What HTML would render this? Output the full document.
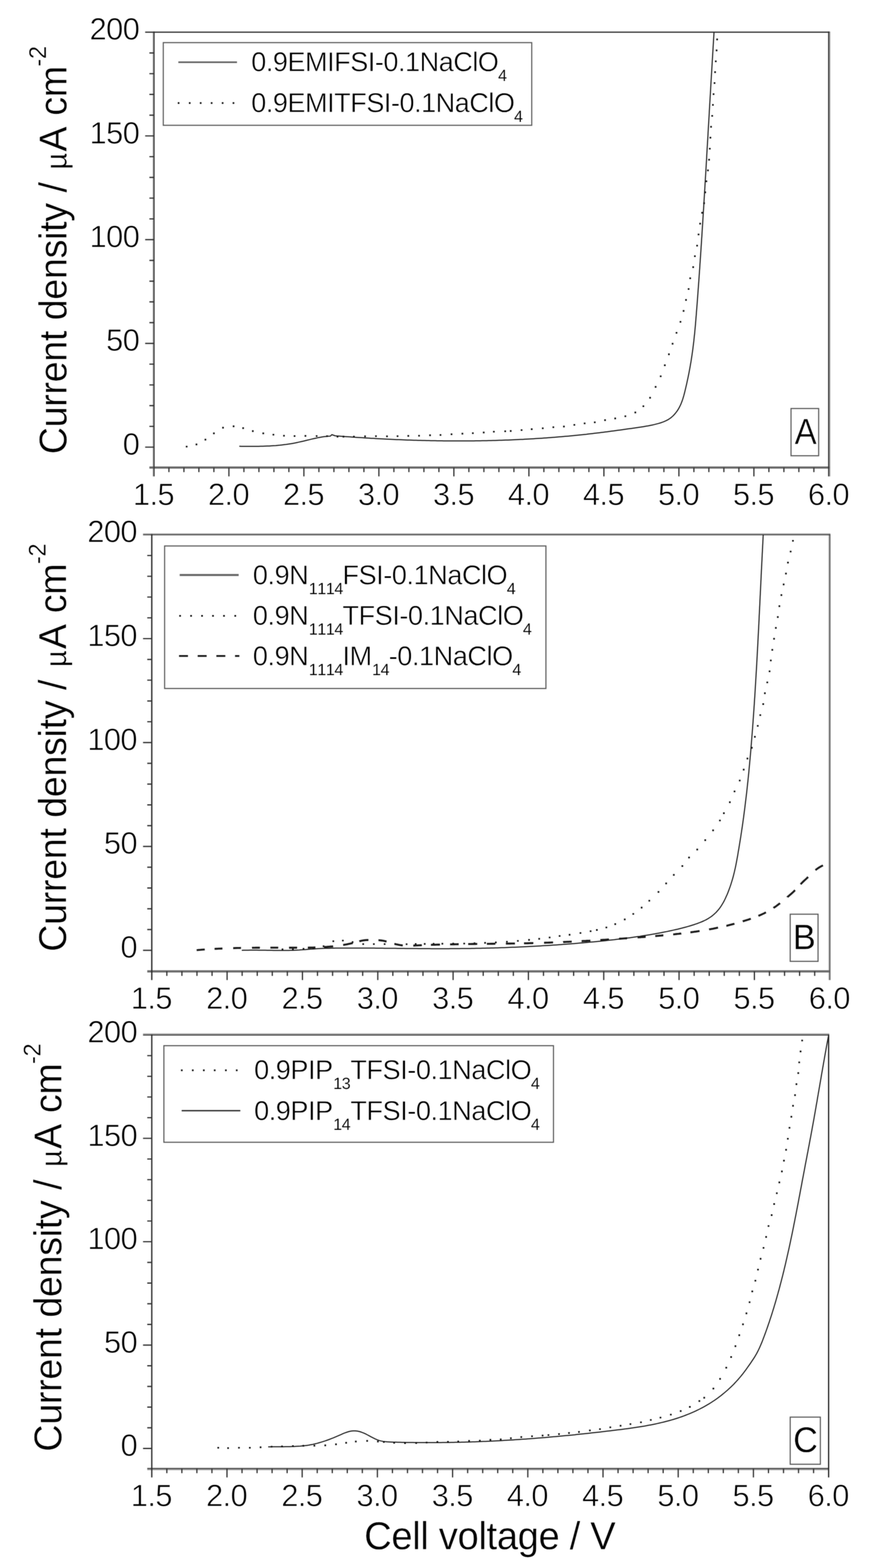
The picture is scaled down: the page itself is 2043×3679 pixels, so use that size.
<!DOCTYPE html>
<html lang="en">
<head>
<meta charset="utf-8">
<title>Linear sweep voltammetry of ionic-liquid electrolytes</title>
<style>
html,body{margin:0;padding:0;background:#fff;}
body{width:2043px;height:3679px;overflow:hidden;}
svg{display:block;}
text{font-family:"Liberation Sans", Arial, Helvetica, sans-serif;fill:#000;stroke:#fff;stroke-linejoin:round;paint-order:fill stroke;white-space:pre;font-kerning:none;font-variant-ligatures:none;text-rendering:geometricPrecision;}
.tk{font-size:72.80px;stroke-width:1.35px;letter-spacing:-1.51px;}
.lg{font-size:64.00px;stroke-width:1.0px;letter-spacing:-1.12px;}
.sb{font-size:38.00px;stroke-width:0.25px;letter-spacing:-0.29px;}
.al{font-size:91.50px;stroke-width:0.65px;letter-spacing:-0.75px;}
.sp{font-size:57.00px;stroke-width:0.7px;letter-spacing:-0.80px;}
.mu{font-size:70.00px;stroke-width:0.8px;letter-spacing:-0.91px;}
.pl{font-size:85.00px;stroke-width:1.2px;letter-spacing:-1.41px;}
.ax{fill:none;stroke:#333;stroke-width:2.9;}
.bx{fill:#fff;stroke:#5a5a5a;stroke-width:2.6;}
.cv{fill:none;stroke:#1c1c1c;stroke-linejoin:round;}
.dt{fill:none;stroke:#111;stroke-linecap:square;}
</style>
</head>
<body>
<svg xmlns="http://www.w3.org/2000/svg" width="2043" height="3679" viewBox="0 0 2043 3679">
<defs>
<filter id="soft" x="0" y="0" width="2043" height="3679" filterUnits="userSpaceOnUse" color-interpolation-filters="sRGB">
<feConvolveMatrix order="3" kernelMatrix="1 2 1 2 4 2 1 2 1" divisor="16" edgeMode="duplicate" preserveAlpha="true"/>
</filter>
</defs>
<g filter="url(#soft)">
<rect width="2043" height="3679" fill="#fff"/>
<g id="panel-A">
<path d="M340.5 73.9L1945.6 73.9" fill="none" stroke="#c4c4c4" stroke-width="1.6"/>
<path d="M358.8 74.1L358.8 1117.7" fill="none" stroke="#bcbcbc" stroke-width="2.2"/>
<path d="M1946.4 74.1L1946.4 1117.7" fill="none" stroke="#a8a8a8" stroke-width="2.8"/>
<path d="M350.4 1097L1945.6 1097" fill="none" stroke="#666" stroke-width="5.2"/>
<path d="M361.3 74.1L361.3 1117.7" fill="none" stroke="#383838" stroke-width="2.8"/>
<path d="M1943.7 74.1L1943.7 1117.7" fill="none" stroke="#383838" stroke-width="2.8"/>
<path d="M340.5 75.7L1945.6 75.7" fill="none" stroke="#2e2e2e" stroke-width="2.5"/>
<path class="ax" d="M396.2 1097.2v10.6 M431.4 1097.2v10.6 M466.5 1097.2v10.6 M501.7 1097.2v10.6 M536.9 1097.2v20.5 M572.1 1097.2v10.6 M607.3 1097.2v10.6 M642.5 1097.2v10.6 M677.6 1097.2v10.6 M712.8 1097.2v20.5 M748 1097.2v10.6 M783.2 1097.2v10.6 M818.4 1097.2v10.6 M853.6 1097.2v10.6 M888.7 1097.2v20.5 M923.9 1097.2v10.6 M959.1 1097.2v10.6 M994.3 1097.2v10.6 M1029.5 1097.2v10.6 M1064.6 1097.2v20.5 M1099.8 1097.2v10.6 M1135 1097.2v10.6 M1170.2 1097.2v10.6 M1205.4 1097.2v10.6 M1240.6 1097.2v20.5 M1275.7 1097.2v10.6 M1310.9 1097.2v10.6 M1346.1 1097.2v10.6 M1381.3 1097.2v10.6 M1416.5 1097.2v20.5 M1451.6 1097.2v10.6 M1486.8 1097.2v10.6 M1522 1097.2v10.6 M1557.2 1097.2v10.6 M1592.4 1097.2v20.5 M1627.6 1097.2v10.6 M1662.7 1097.2v10.6 M1697.9 1097.2v10.6 M1733.1 1097.2v10.6 M1768.3 1097.2v20.5 M1803.5 1097.2v10.6 M1838.7 1097.2v10.6 M1873.8 1097.2v10.6 M1909 1097.2v10.6 M361 1049.1h-20.5 M361 1000.4h-10.6 M361 951.7h-10.6 M361 903.1h-10.6 M361 854.4h-10.6 M361 805.7h-20.5 M361 757h-10.6 M361 708.3h-10.6 M361 659.7h-10.6 M361 611h-10.6 M361 562.3h-20.5 M361 513.6h-10.6 M361 464.9h-10.6 M361 416.3h-10.6 M361 367.6h-10.6 M361 318.9h-20.5 M361 270.2h-10.6 M361 221.5h-10.6 M361 172.9h-10.6 M361 124.2h-10.6"/>
<text class="tk" transform="translate(360 1184.7) scale(0.9959 1)" text-anchor="middle">1.5</text>
<text class="tk" transform="translate(535.9 1184.7) scale(0.9959 1)" text-anchor="middle">2.0</text>
<text class="tk" transform="translate(711.8 1184.7) scale(0.9959 1)" text-anchor="middle">2.5</text>
<text class="tk" transform="translate(887.7 1184.7) scale(0.9959 1)" text-anchor="middle">3.0</text>
<text class="tk" transform="translate(1063.6 1184.7) scale(0.9959 1)" text-anchor="middle">3.5</text>
<text class="tk" transform="translate(1239.5 1184.7) scale(0.9959 1)" text-anchor="middle">4.0</text>
<text class="tk" transform="translate(1415.4 1184.7) scale(0.9959 1)" text-anchor="middle">4.5</text>
<text class="tk" transform="translate(1591.3 1184.7) scale(0.9959 1)" text-anchor="middle">5.0</text>
<text class="tk" transform="translate(1767.2 1184.7) scale(0.9959 1)" text-anchor="middle">5.5</text>
<text class="tk" transform="translate(1943.2 1184.7) scale(0.9959 1)" text-anchor="middle">6.0</text>
<text class="tk" transform="translate(326.5 1066.7) scale(0.9959 1)" text-anchor="end">0</text>
<text class="tk" transform="translate(326.5 823.3) scale(0.9959 1)" text-anchor="end">50</text>
<text class="tk" transform="translate(326.5 579.9) scale(0.9959 1)" text-anchor="end">100</text>
<text class="tk" transform="translate(326.5 336.5) scale(0.9959 1)" text-anchor="end">150</text>
<text class="tk" transform="translate(326.5 93.1) scale(0.9959 1)" text-anchor="end">200</text>
<text class="al" transform="translate(156 1065.8) rotate(-90) scale(0.9650 1)"><tspan x="0">Current</tspan><tspan x="325.7">density</tspan><tspan x="636.4">/</tspan><tspan class="mu" style="letter-spacing:0" x="692.4">µ</tspan><tspan x="735.8">A</tspan><tspan x="823.1">cm</tspan><tspan class="sp" style="letter-spacing:-0.58px" x="942.5" dy="-48.2">-2</tspan></text>
</g>
<g id="panel-B">
<path d="M1943.9 1253.2L1943.9 2299.6" fill="none" stroke="#c6c6c6" stroke-width="2.4"/>
<path d="M335.5 1252.4L1947.6 1252.4" fill="none" stroke="#acacac" stroke-width="2.4"/>
<path d="M345.4 2279.1L1947.6 2279.1" fill="none" stroke="#6c6c6c" stroke-width="5.2"/>
<path d="M1946.5 1253.2L1946.5 2299.6" fill="none" stroke="#5e5e5e" stroke-width="2.9"/>
<path d="M335.5 1254.8L1947.6 1254.8" fill="none" stroke="#484848" stroke-width="2.5"/>
<path d="M356 1253.2L356 2299.6" fill="none" stroke="#2a2a2a" stroke-width="3.1"/>
<path class="ax" d="M391.3 2279.1v10.6 M426.7 2279.1v10.6 M462 2279.1v10.6 M497.4 2279.1v10.6 M532.7 2279.1v20.5 M568 2279.1v10.6 M603.4 2279.1v10.6 M638.7 2279.1v10.6 M674 2279.1v10.6 M709.4 2279.1v20.5 M744.7 2279.1v10.6 M780.1 2279.1v10.6 M815.4 2279.1v10.6 M850.7 2279.1v10.6 M886.1 2279.1v20.5 M921.4 2279.1v10.6 M956.7 2279.1v10.6 M992.1 2279.1v10.6 M1027.4 2279.1v10.6 M1062.8 2279.1v20.5 M1098.1 2279.1v10.6 M1133.4 2279.1v10.6 M1168.8 2279.1v10.6 M1204.1 2279.1v10.6 M1239.4 2279.1v20.5 M1274.8 2279.1v10.6 M1310.1 2279.1v10.6 M1345.5 2279.1v10.6 M1380.8 2279.1v10.6 M1416.1 2279.1v20.5 M1451.5 2279.1v10.6 M1486.8 2279.1v10.6 M1522.1 2279.1v10.6 M1557.5 2279.1v10.6 M1592.8 2279.1v20.5 M1628.2 2279.1v10.6 M1663.5 2279.1v10.6 M1698.8 2279.1v10.6 M1734.2 2279.1v10.6 M1769.5 2279.1v20.5 M1804.8 2279.1v10.6 M1840.2 2279.1v10.6 M1875.5 2279.1v10.6 M1910.9 2279.1v10.6 M356 2229.8h-20.5 M356 2181h-10.6 M356 2132.3h-10.6 M356 2083.5h-10.6 M356 2034.8h-10.6 M356 1986h-20.5 M356 1937.2h-10.6 M356 1888.5h-10.6 M356 1839.7h-10.6 M356 1791h-10.6 M356 1742.2h-20.5 M356 1693.4h-10.6 M356 1644.7h-10.6 M356 1595.9h-10.6 M356 1547.2h-10.6 M356 1498.4h-20.5 M356 1449.6h-10.6 M356 1400.9h-10.6 M356 1352.1h-10.6 M356 1303.4h-10.6"/>
<text class="tk" transform="translate(355 2366.6) scale(0.9959 1)" text-anchor="middle">1.5</text>
<text class="tk" transform="translate(531.6 2366.6) scale(0.9959 1)" text-anchor="middle">2.0</text>
<text class="tk" transform="translate(708.3 2366.6) scale(0.9959 1)" text-anchor="middle">2.5</text>
<text class="tk" transform="translate(885 2366.6) scale(0.9959 1)" text-anchor="middle">3.0</text>
<text class="tk" transform="translate(1061.7 2366.6) scale(0.9959 1)" text-anchor="middle">3.5</text>
<text class="tk" transform="translate(1238.4 2366.6) scale(0.9959 1)" text-anchor="middle">4.0</text>
<text class="tk" transform="translate(1415.1 2366.6) scale(0.9959 1)" text-anchor="middle">4.5</text>
<text class="tk" transform="translate(1591.8 2366.6) scale(0.9959 1)" text-anchor="middle">5.0</text>
<text class="tk" transform="translate(1768.5 2366.6) scale(0.9959 1)" text-anchor="middle">5.5</text>
<text class="tk" transform="translate(1945.2 2366.6) scale(0.9959 1)" text-anchor="middle">6.0</text>
<text class="tk" transform="translate(321.2 2247.1) scale(0.9959 1)" text-anchor="end">0</text>
<text class="tk" transform="translate(321.2 2003.3) scale(0.9959 1)" text-anchor="end">50</text>
<text class="tk" transform="translate(321.2 1759.5) scale(0.9959 1)" text-anchor="end">100</text>
<text class="tk" transform="translate(321.2 1515.7) scale(0.9959 1)" text-anchor="end">150</text>
<text class="tk" transform="translate(321.2 1271.9) scale(0.9959 1)" text-anchor="end">200</text>
<text class="al" transform="translate(155 2233.1) rotate(-90) scale(0.9650 1)"><tspan x="0">Current</tspan><tspan x="325.7">density</tspan><tspan x="636.4">/</tspan><tspan class="mu" style="letter-spacing:0" x="692.4">µ</tspan><tspan x="735.8">A</tspan><tspan x="823.1">cm</tspan><tspan class="sp" style="letter-spacing:-0.58px" x="942.5" dy="-48.2">-2</tspan></text>
</g>
<g id="panel-C">
<path d="M335.5 2425.8L1945 2425.8" fill="none" stroke="#acacac" stroke-width="2.8"/>
<path d="M345.4 3448.3L1945 3448.3" fill="none" stroke="#9a9a9a" stroke-width="2.4"/>
<path d="M345.4 3445.5L1945 3445.5" fill="none" stroke="#5a5a5a" stroke-width="3.1"/>
<path d="M335.5 2428.5L1945 2428.5" fill="none" stroke="#3a3a3a" stroke-width="2.7"/>
<path d="M356 2427L356 3466.5" fill="none" stroke="#2a2a2a" stroke-width="3.0"/>
<path d="M1943.6 2427L1943.6 3466.5" fill="none" stroke="#2a2a2a" stroke-width="3.0"/>
<path class="ax" d="M391.3 3446v10.6 M426.6 3446v10.6 M461.8 3446v10.6 M497.1 3446v10.6 M532.4 3446v20.5 M567.7 3446v10.6 M603 3446v10.6 M638.2 3446v10.6 M673.5 3446v10.6 M708.8 3446v20.5 M744.1 3446v10.6 M779.4 3446v10.6 M814.6 3446v10.6 M849.9 3446v10.6 M885.2 3446v20.5 M920.5 3446v10.6 M955.8 3446v10.6 M991 3446v10.6 M1026.3 3446v10.6 M1061.6 3446v20.5 M1096.9 3446v10.6 M1132.2 3446v10.6 M1167.4 3446v10.6 M1202.7 3446v10.6 M1238 3446v20.5 M1273.3 3446v10.6 M1308.6 3446v10.6 M1343.8 3446v10.6 M1379.1 3446v10.6 M1414.4 3446v20.5 M1449.7 3446v10.6 M1485 3446v10.6 M1520.2 3446v10.6 M1555.5 3446v10.6 M1590.8 3446v20.5 M1626.1 3446v10.6 M1661.4 3446v10.6 M1696.6 3446v10.6 M1731.9 3446v10.6 M1767.2 3446v20.5 M1802.5 3446v10.6 M1837.8 3446v10.6 M1873 3446v10.6 M1908.3 3446v10.6 M356 3398.5h-20.5 M356 3350h-10.6 M356 3301.5h-10.6 M356 3253h-10.6 M356 3204.5h-10.6 M356 3156h-20.5 M356 3107.5h-10.6 M356 3059h-10.6 M356 3010.5h-10.6 M356 2962h-10.6 M356 2913.4h-20.5 M356 2864.9h-10.6 M356 2816.4h-10.6 M356 2767.9h-10.6 M356 2719.4h-10.6 M356 2670.9h-20.5 M356 2622.4h-10.6 M356 2573.9h-10.6 M356 2525.4h-10.6 M356 2476.9h-10.6"/>
<text class="tk" transform="translate(355 3533.5) scale(0.9959 1)" text-anchor="middle">1.5</text>
<text class="tk" transform="translate(531.4 3533.5) scale(0.9959 1)" text-anchor="middle">2.0</text>
<text class="tk" transform="translate(707.8 3533.5) scale(0.9959 1)" text-anchor="middle">2.5</text>
<text class="tk" transform="translate(884.2 3533.5) scale(0.9959 1)" text-anchor="middle">3.0</text>
<text class="tk" transform="translate(1060.6 3533.5) scale(0.9959 1)" text-anchor="middle">3.5</text>
<text class="tk" transform="translate(1237 3533.5) scale(0.9959 1)" text-anchor="middle">4.0</text>
<text class="tk" transform="translate(1413.4 3533.5) scale(0.9959 1)" text-anchor="middle">4.5</text>
<text class="tk" transform="translate(1589.8 3533.5) scale(0.9959 1)" text-anchor="middle">5.0</text>
<text class="tk" transform="translate(1766.2 3533.5) scale(0.9959 1)" text-anchor="middle">5.5</text>
<text class="tk" transform="translate(1942.6 3533.5) scale(0.9959 1)" text-anchor="middle">6.0</text>
<text class="tk" transform="translate(321.5 3416.2) scale(0.9959 1)" text-anchor="end">0</text>
<text class="tk" transform="translate(321.5 3173.7) scale(0.9959 1)" text-anchor="end">50</text>
<text class="tk" transform="translate(321.5 2931.1) scale(0.9959 1)" text-anchor="end">100</text>
<text class="tk" transform="translate(321.5 2688.6) scale(0.9959 1)" text-anchor="end">150</text>
<text class="tk" transform="translate(321.5 2446.1) scale(0.9959 1)" text-anchor="end">200</text>
<text class="al" transform="translate(143.6 3405.9) rotate(-90) scale(0.9650 1)"><tspan x="0">Current</tspan><tspan x="325.7">density</tspan><tspan x="636.4">/</tspan><tspan class="mu" style="letter-spacing:0" x="692.4">µ</tspan><tspan x="735.8">A</tspan><tspan x="823.1">cm</tspan><tspan class="sp" style="letter-spacing:-0.58px" x="942.5" dy="-48.2">-2</tspan></text>
</g>
<g id="curves">
<path class="cv" stroke-width="2.5" d="M561.3 1047.1l5.1 0.1l5 0l5.1 0.1l5.1 0l5 0l5 0l5.1 0l5 0l5 -0.1l5 -0.1l5 -0.1l5 -0.2l5 -0.2l5 -0.2l5 -0.3l4.9 -0.4l5 -0.3l5 -0.5l4.9 -0.4l5 -0.6l4.9 -0.6l5 -0.6l4.9 -0.7l5 -0.8l4.9 -0.8l5 -0.9l4.9 -1l4.9 -1.1l5 -1.1l4.9 -1.1l4.9 -1.2l5 -1.2l4.9 -1.2l4.9 -1.2l4.9 -1.1l5 -1.1l4.9 -1.1l4.9 -0.9l5 -0.9l4.9 -0.7l4.9 -0.6l5 -0.5l4.9 -0.3l3.3 -3.4l7.8 2.7l5 0.4l4.9 0.4l5 0.4l5 0.3l5 0.4l4.9 0.4l5 0.3l5 0.4l5 0.3l5 0.4l4.9 0.3l5 0.3l5 0.3l5 0.4l5 0.3l5 0.3l5 0.3l5 0.2l5 0.3l5 0.3l5 0.3l5 0.2l4.9 0.3l5 0.3l5 0.2l5.1 0.2l5 0.3l5 0.2l5 0.2l5 0.2l5 0.2l5 0.2l5 0.2l5 0.2l5 0.2l5 0.1l5 0.2l5 0.2l5 0.1l5 0.1l5.1 0.2l5 0.1l5 0.1l5 0.1l5 0.1l5 0.1l5 0.1l5 0.1l5 0.1l5.1 0l5 0.1l5 0.1l5 0l5 0l5 0.1l5 0l5.1 0l5 0l5 0l5 0l5 0l5 -0.1l5 0l5 0l5.1 -0.1l5 -0.1l5 0l5 -0.1l5 -0.1l5 -0.1l5 -0.1l5 -0.1l5 -0.1l5 -0.1l5 -0.2l5 -0.1l5 -0.2l5 -0.1l5 -0.2l5.1 -0.2l5 -0.2l5 -0.2l5 -0.2l5 -0.2l4.9 -0.2l5 -0.3l5 -0.2l5 -0.2l5 -0.3l5 -0.3l5 -0.3l5 -0.2l5 -0.3l5 -0.4l5 -0.3l4.9 -0.3l5 -0.3l5 -0.4l5 -0.3l5 -0.4l4.9 -0.4l5 -0.4l5 -0.3l5 -0.4l4.9 -0.5l5 -0.4l5 -0.4l4.9 -0.5l5 -0.4l5 -0.5l4.9 -0.4l5 -0.5l4.9 -0.5l5 -0.5l4.9 -0.5l5 -0.6l4.9 -0.5l5 -0.5l4.9 -0.6l5 -0.6l4.9 -0.5l5 -0.6l4.9 -0.6l4.9 -0.6l5 -0.6l4.9 -0.6l5 -0.7l4.9 -0.6l5 -0.6l5 -0.7l4.9 -0.7l5 -0.6l5 -0.7l4.9 -0.7l5 -0.7l5 -0.7l5 -0.7l5 -0.7l5.1 -0.7l5 -0.7l5 -0.8l5.1 -0.7l5 -0.7l5.1 -0.8l5 -0.8l5 -0.8l5.1 -0.9l4.9 -1l5 -1l4.9 -1.1l4.8 -1.2l4.8 -1.3l4.7 -1.4l4.7 -1.6l4.5 -1.8l4.4 -1.9l4.3 -2.3l4.1 -2.6l4 -3.1l3.7 -3.3l3.5 -3.7l3.2 -3.9l3 -4l2.7 -4.2l2.4 -4.4l2.2 -4.4l2 -4.6l1.8 -4.6l1.6 -4.7l1.5 -4.8l1.4 -4.8l1.3 -4.9l1.2 -4.9l1.2 -4.9l1.1 -4.9l1.2 -4.9l1.1 -4.9l1 -4.9l1.1 -4.9l1 -4.9l1 -5l1 -4.9l0.9 -4.9l0.9 -4.9l0.9 -5l0.8 -4.9l0.9 -4.9l0.8 -5l0.7 -4.9l0.8 -5l0.7 -4.9l0.7 -5l0.7 -4.9l0.6 -5l0.6 -4.9l0.6 -5l0.6 -4.9l0.5 -5l0.5 -5l0.6 -4.9l0.5 -5l0.4 -5l0.5 -4.9l0.5 -5l0.4 -5l0.4 -5l0.4 -4.9l0.4 -5l0.5 -5l0.3 -5l0.4 -5l0.4 -4.9l0.4 -5l0.4 -5l0.4 -5l0.4 -5l0.3 -5l0.4 -5l0.4 -4.9l0.3 -5l0.4 -5l0.4 -5l0.3 -5l0.4 -5l0.4 -5l0.3 -5l0.4 -5l0.3 -5l0.4 -5l0.3 -5l0.4 -5l0.3 -5l0.3 -5l0.4 -5l0.3 -5l0.4 -5l0.3 -5l0.3 -5l0.4 -5l0.3 -5l0.3 -5l0.4 -5l0.3 -5l0.3 -5l0.3 -5l0.4 -5l0.3 -5l0.3 -5l0.3 -5l0.3 -5l0.4 -5l0.3 -5l0.3 -5l0.3 -5l0.3 -5l0.3 -5l0.3 -5l0.3 -5l0.4 -5l0.3 -5l0.3 -4.9l0.3 -5l0.3 -5l0.3 -5l0.3 -5l0.3 -5l0.3 -5l0.3 -5l0.3 -5l0.3 -5l0.3 -5l0.3 -5l0.3 -5l0.3 -5l0.3 -5l0.3 -5l0.3 -5l0.3 -5l0.3 -5l0.3 -4.9l0.3 -5l0.3 -5l0.3 -5l0.2 -5l0.3 -5l0.3 -5l0.3 -5l0.3 -5l0.3 -5l0.3 -5l0.3 -5l0.3 -5l0.3 -4.9l0.3 -5l0.2 -5l0.3 -5l0.3 -5l0.3 -5l0.3 -5l0.3 -5l0.3 -5l0.3 -5l0.3 -5l0.3 -5l0.2 -5l0.3 -4.9l0.3 -5l0.3 -5l0.3 -5l0.3 -5l0.3 -5l0.3 -5l0.3 -5l0.3 -5l0.3 -5l0.2 -5l0.3 -5l0.3 -5l0.3 -5l0.3 -5l0.3 -5l0.3 -4.9l0.3 -5l0.3 -5l0.3 -5l0.3 -5l0.3 -5l0.3 -5l0.3 -5l0.3 -5l0.3 -5l0.3 -5l0.3 -5l0.3 -5l0.3 -5l0.3 -5l0.3 -5l0.3 -5l0.3 -5l0.3 -5l0.3 -5l0.3 -5"/>
<path class="dt" stroke-width="3.9" d="M437.8 1047.9h0M460.8 1042.7h0M481.8 1031.5h0M501.7 1016.8h0M523.1 1003.5h0M547.9 1000.3h0M570.3 1004.5h0M593 1011.5h0M617.5 1016.8h0M641.3 1019.9h0M666.1 1022.4h0M690.9 1023.1h0M716.4 1022.7h0M742.7 1023.1h0M767.1 1023.4h0M791.6 1024.5h0M805.6 1024.5h0M830.1 1024.5h0M856.3 1023.8h0M881.8 1023.4h0M907.7 1023.8h0M932.5 1023.4h0M957.7 1022.7h0M982.9 1022.4h0M1008.7 1021.3h0M1033.2 1020.6h0M1059.1 1018.9h0M1084.6 1017.5h0M1109.1 1016.4h0M1134.6 1014.7h0M1158.4 1012.9h0M1185 1011.9h0M1197.9 1011.2h0M1223.4 1009.1h0M1247.2 1007h0M1273.1 1004.9h0M1297.9 1002.4h0M1322.7 1000.7h0M1347.2 996.9h0M1371.3 993.4h0M1395.1 990.9h0M1419.2 985.7h0M1443 981.8h0M1466.8 976.6h0M1490.2 967.8h0M1509.1 953.1h0M1524.8 933.2h0M1537.8 907.7h0M1549.7 882.9h0M1559.4 857h0M1569 831.2h0M1577.6 806.5h0M1586.8 780.9h0M1596.1 755.1h0M1603.4 729.5h0M1609.1 703.7h0M1615.2 678.1h0M1618.9 652.9h0M1625.9 626.7h0M1629.9 601.1h0M1635.1 576.4h0M1638.5 550.1h0M1642.2 524.7h0M1646.8 499.2h0M1651.5 476.7h0M1654.2 451.2h0M1656.9 425.4h0M1660.5 399.8h0M1663.2 374.7h0M1664.9 348.9h0M1666.3 323h0M1667.8 297.5h0M1670.5 271.9h0M1672.2 246.1h0M1673.7 220.9h0M1676 194.9h0M1677.3 169.3h0M1678.9 143.9h0M1680.8 118.3h0M1682.1 92.5h0"/>
<path class="cv" stroke-width="2.5" d="M567.1 2229.7l5 -0.2l5 -0.1l5 0l5 -0.1l5 0l5 0l5 0l5 0.1l5 0l4.9 0.1l5 0.1l5 0.1l5 0l5 0.1l5 0.1l5 0l5 0.1l5 0l5 0l5 0l5 0l5 -0.1l5 -0.1l5 -0.1l5 -0.2l5 -0.3l5 -0.2l5 -0.4l5 -0.3l5 -0.4l5 -0.4l5 -0.4l5 -0.4l5 -0.3l5 -0.3l5 -0.3l5 -0.3l5 -0.2l5 -0.2l5 -0.1l5 -0.1l5 -0.1l5 -0.1l5 -0.1l5 0l5 -0.1l5 0l5 0l5.1 -0.1l5 0l5 0l5 0l5 0l5 0l5 0l5 0.1l5 0l5 0l5 0l5 0.1l5 0l5 0l5 0.1l5 0l5 0.1l5 0l5 0.1l5 0l5 0.1l5 0l5 0.1l5 0l5 0.1l5 0l5 0.1l5 0l5 0.1l5 0l5 0.1l5 0l5 0.1l5 0l5 0.1l5 0l5.1 0l5 0.1l5 0l5 0l5 0.1l5 0l5 0l5 0l5 0l5 0l5 0l5 0l5 0l5 -0.1l5 0l5 0l5 -0.1l5 0l5 -0.1l5 0l5 -0.1l5 0l4.9 -0.1l5 -0.1l5 -0.1l5 -0.1l5 -0.1l5 -0.1l5 -0.1l5 -0.1l5 -0.1l5 -0.1l5 -0.2l5 -0.1l5 -0.2l5 -0.1l5 -0.2l5 -0.1l5 -0.2l5 -0.2l5 -0.2l5 -0.2l4.9 -0.2l5 -0.2l5 -0.2l5 -0.2l5 -0.2l5 -0.3l5 -0.2l5 -0.3l5 -0.2l5 -0.3l4.9 -0.2l5 -0.3l5 -0.3l5 -0.3l5 -0.3l5 -0.3l5 -0.3l5 -0.3l4.9 -0.3l5 -0.3l5 -0.4l5 -0.3l5 -0.4l5 -0.3l4.9 -0.4l5 -0.4l5 -0.4l5 -0.3l5 -0.4l4.9 -0.4l5 -0.5l5 -0.4l5 -0.4l5 -0.4l4.9 -0.5l5 -0.4l5 -0.5l5 -0.5l4.9 -0.4l5 -0.5l5 -0.5l5 -0.5l4.9 -0.5l5 -0.5l5 -0.5l5 -0.6l4.9 -0.5l5 -0.6l5 -0.5l4.9 -0.6l5 -0.6l5 -0.6l4.9 -0.6l5 -0.6l4.9 -0.7l5 -0.6l5 -0.7l4.9 -0.7l5 -0.7l4.9 -0.7l5 -0.7l4.9 -0.8l4.9 -0.8l5 -0.7l4.9 -0.9l4.9 -0.8l5 -0.8l4.9 -0.9l4.9 -0.9l4.9 -0.9l5 -0.9l4.9 -1l4.9 -0.9l4.9 -1l4.9 -1.1l4.9 -1l4.9 -1.1l4.9 -1.1l4.9 -1.1l4.8 -1.2l4.9 -1.2l4.8 -1.3l4.9 -1.3l4.8 -1.3l4.8 -1.4l4.8 -1.5l4.8 -1.5l4.7 -1.6l4.8 -1.7l4.7 -1.8l4.6 -1.9l4.5 -2l4.5 -2.2l4.4 -2.4l4.2 -2.6l4.1 -2.8l3.9 -3.1l3.7 -3.2l3.6 -3.4l3.3 -3.6l3.2 -3.8l3 -3.9l2.8 -4.1l2.6 -4.3l2.5 -4.3l2.4 -4.5l2.2 -4.5l2.1 -4.7l2.1 -4.6l1.9 -4.7l1.8 -4.8l1.7 -4.7l1.7 -4.7l1.6 -4.8l1.5 -4.8l1.5 -4.8l1.4 -4.8l1.3 -4.8l1.2 -4.8l1.2 -4.8l1.1 -4.9l1.1 -4.8l1 -4.9l1 -4.9l0.9 -4.8l0.9 -4.9l0.9 -4.9l0.9 -4.9l0.8 -4.9l0.8 -5l0.9 -4.9l0.8 -4.9l0.8 -4.9l0.8 -5l0.8 -4.9l0.8 -5l0.8 -4.9l0.7 -5l0.8 -4.9l0.7 -5l0.8 -4.9l0.7 -5l0.7 -5l0.7 -4.9l0.7 -5l0.7 -4.9l0.6 -5l0.7 -5l0.6 -4.9l0.7 -5l0.6 -5l0.6 -4.9l0.6 -5l0.6 -5l0.6 -4.9l0.6 -5l0.6 -5l0.6 -5l0.5 -4.9l0.6 -5l0.5 -5l0.5 -4.9l0.6 -5l0.5 -5l0.5 -5l0.5 -4.9l0.5 -5l0.5 -5l0.4 -4.9l0.5 -5l0.5 -5l0.4 -5l0.5 -4.9l0.4 -5l0.5 -5l0.4 -5l0.5 -5l0.4 -4.9l0.4 -5l0.4 -5l0.4 -5l0.4 -4.9l0.4 -5l0.4 -5l0.4 -5l0.4 -5l0.4 -5l0.4 -4.9l0.3 -5l0.4 -5l0.4 -5l0.3 -5l0.4 -5l0.3 -4.9l0.4 -5l0.3 -5l0.4 -5l0.3 -5l0.4 -5l0.3 -5l0.3 -5l0.3 -5l0.4 -4.9l0.3 -5l0.3 -5l0.3 -5l0.3 -5l0.3 -5l0.3 -5l0.3 -5l0.3 -5l0.3 -5l0.3 -5l0.3 -4.9l0.3 -5l0.3 -5l0.3 -5l0.3 -5l0.2 -5l0.3 -5l0.3 -5l0.3 -5l0.2 -5l0.3 -5l0.3 -5l0.2 -5l0.3 -5l0.3 -5l0.2 -5l0.3 -5l0.2 -5l0.3 -5l0.3 -4.9l0.2 -5l0.3 -5l0.2 -5l0.3 -5l0.2 -5l0.3 -5l0.2 -5l0.2 -5l0.3 -5l0.2 -5l0.3 -5l0.2 -5l0.3 -5l0.2 -5l0.2 -5l0.3 -5l0.2 -5l0.3 -5l0.2 -5l0.3 -5l0.2 -5l0.2 -5l0.3 -5l0.2 -5l0.3 -4.9l0.2 -5l0.2 -5l0.3 -5l0.2 -5l0.3 -5l0.2 -5l0.3 -5l0.2 -5l0.3 -5l0.2 -5l0.3 -5l0.2 -5l0.3 -5l0.2 -5l0.3 -5l0.2 -4.9l0.3 -5l0.2 -5l0.3 -5l0.2 -5l0.3 -5"/>
<path class="dt" stroke-width="3.9" d="M662.6 2227.4h0M687 2227h0M711.9 2226.3h0M735 2224.5h0M758.9 2220.3h0M781.8 2208.4h0M804.2 2206.9h0M827 2210.5h0M851.9 2215.1h0M876.9 2215.1h0M902.2 2215.1h0M927 2215.3h0M953.7 2215.4h0M975 2215h0M996.2 2214.7h0M1017 2214.5h0M1037.6 2214.2h0M1063 2214h0M1088.8 2213.9h0M1113 2213.2h0M1137.8 2212.2h0M1163 2211.2h0M1189 2209.6h0M1214.7 2207.6h0M1240.9 2205.2h0M1264.7 2202.7h0M1289.2 2199.6h0M1312.6 2196.1h0M1336 2193.3h0M1361.5 2189.1h0M1385.3 2184.9h0M1400 2182h0M1422.3 2176.1h0M1443.1 2168.2h0M1465.4 2157.3h0M1485.4 2144.4h0M1505 2129.5h0M1523 2113.4h0M1544.5 2092.7h0M1562.5 2072.7h0M1580.5 2052.7h0M1600.5 2032h0M1616.2 2012h0M1635.4 1993.2h0M1654.2 1971.3h0M1672.6 1948.2h0M1688.6 1925.1h0M1697.9 1908h0M1711.9 1882.3h0M1722.9 1856.9h0M1735.1 1831.4h0M1744.4 1805.7h0M1753.2 1779.8h0M1763.5 1754.5h0M1770.6 1728.8h0M1777.4 1703.1h0M1783.3 1677.9h0M1790.2 1652h0M1794.1 1626.5h0M1799.7 1601.1h0M1805.1 1575.1h0M1808 1549.6h0M1811.5 1524.7h0M1815.6 1498.7h0M1819.8 1473.3h0M1824.4 1447.8h0M1828.1 1422.3h0M1832.8 1396.2h0M1838.1 1371.2h0M1843.5 1345.7h0M1848.2 1320h0M1854.5 1294.1h0M1859.9 1268.9h0"/>
<path class="cv" stroke-width="4.6" d="M461.3 2229.2l0 0l3 -0.2l3 -0.3l3 -0.2l3 -0.3l3 -0.2l3 -0.2l1 -0.1M503.3 2226.3l0.9 0l3 -0.2l3 -0.1l3 -0.2l3 -0.1l3 -0.1l2.5 -0.1M547 2224.6l0.2 0l3 -0.1l3 -0.1l3 -0.1l3 0l3 -0.1l3 -0.1l0.1 0M591 2223.7l0.1 0l3 0l3 0l3 -0.1l3 0l3 0l3.1 0l0.4 0M634.2 2223.5l1 0l3 0l3 0l3 0l3 0l3 0l2.4 0M677.9 2223.6l0.3 0l3 0l3 0l3 0l3 0l3 0l3 0l0.7 0M722 2223.5l0.3 0l3 -0.1l3 0l3 -0.1l3 -0.1l3 -0.1l2.5 0M760.1 2222.1l0.1 0l3 -0.2l3 -0.2l2.9 -0.3l3 -0.2l3 -0.3l3 -0.2l2.9 -0.3l0.4 -0.1M804.9 2217.1l0.8 -0.1l3 -0.5l3 -0.5l2.9 -0.6l3 -0.6l2.9 -0.6l3 -0.7l2.9 -0.6l0.9 -0.3M842.9 2208.6l0.2 -0.1l2.9 -0.7l3 -0.7l2.9 -0.5l3 -0.5l2.9 -0.3l3 -0.2l2.9 -0.1l0.5 0M887.7 2206l0.6 0l3 0.2l3 0.4l2.9 0.4l3 0.6l2.9 0.6l3 0.8l0.6 0.1M925.7 2214.6l0.1 0l2.9 0.8l3 0.7l3 0.6l2.9 0.6l3 0.4l3 0.4l1.1 0.1M969.4 2218.6l0.9 0l3 -0.2l3 -0.1l3 -0.1l2.9 -0.2l3 -0.1l3 -0.1l1.3 -0.1M1010.8 2216.9l0.3 0l3 -0.1l3 -0.1l3 -0.1l3 -0.1l3 -0.1l3 0l2.9 -0.1M1055.7 2215.7l0.3 0l3 0l3 -0.1l3 0l3.1 -0.1l3 0l3 -0.1l1.7 0M1098.2 2215l0.9 0l3 0l3 0l3 -0.1l3 0l3 0l3.1 -0.1l2.2 0M1142 2214.5l0.2 0l3 0l3 0l3.1 -0.1l3 0l3 0l3 -0.1l1.7 0M1186.6 2214l0.8 0l3 0l3 -0.1l3 0l3 -0.1l3 0l3 -0.1l2.4 0M1229.1 2213.3l0.3 0l3 -0.1l3.1 0l3 -0.1l3 -0.1l3 -0.1l3 0l3 -0.1l0.5 0M1276.1 2212l0.3 0l3 -0.1l3 -0.1l3 -0.1l3 -0.1l3 -0.1l3 -0.2l2.9 -0.1M1320.8 2210.3l0.5 -0.1l3 -0.1l3 -0.1l3 -0.2l3 -0.1l3 -0.2l3 -0.1l1.7 -0.1M1364.2 2208.1l0.9 0l3 -0.2l3 -0.2l3 -0.1l3 -0.2l3 -0.2l3 -0.1l1.7 -0.1M1408.2 2205.6l0.8 -0.1l3 -0.2l3 -0.2l2.9 -0.1l3 -0.2l3 -0.2l3 -0.2l1.5 -0.1M1451.9 2202.7l0.9 -0.1l3 -0.2l3 -0.2l3 -0.2l3 -0.2l3 -0.2l3 -0.2l0.1 0M1495.5 2199.5l0.2 0l3 -0.2l3 -0.2l3 -0.3l3 -0.2l3 -0.2l3 -0.3l0.8 0M1536.9 2196.3l0.8 -0.1l3 -0.3l3 -0.2l3 -0.3l3 -0.2l3 -0.3l3 -0.3l0.2 0M1579 2192.3l0.7 0l3 -0.3l3 -0.4l3 -0.3l3 -0.3l3 -0.4l3 -0.3l0.3 -0.1M1619.4 2187.5l0.1 0l3 -0.4l3 -0.4l2.9 -0.4l3 -0.4l3 -0.5l2.9 -0.4l3 -0.5l0.6 -0.1M1663.2 2180.7l0.7 -0.2l3 -0.5l2.9 -0.6l3 -0.5l2.9 -0.6l2.9 -0.6l3 -0.6l2.6 -0.5M1703.8 2172.2l0.1 0l2.9 -0.7l2.9 -0.8l2.9 -0.7l2.9 -0.7l2.9 -0.8l2.9 -0.7l1.4 -0.4M1742.2 2161.8l0.2 -0.1l2.8 -0.9l2.9 -0.9l2.8 -0.9l2.9 -0.9l2.8 -0.9l2.9 -1l1.6 -0.6M1778.9 2148.9l0.2 -0.1l2.7 -1.2l2.8 -1.1l2.7 -1.3l2.7 -1.2l2.7 -1.3l2.7 -1.4l1.2 -0.6M1814.3 2130.4l0.2 -0.2l2.5 -1.7l2.5 -1.7l2.5 -1.8l2.4 -1.9l2.5 -1.8l2.4 -1.9l0.2 -0.2M1847 2104.8l0 -0.1l2.2 -1.8l2.2 -1.9l2.2 -1.9l2.2 -1.8l2.2 -2l2.1 -1.9l2.1 -2.1l2.1 -2.1l0.6 -0.5M1877.8 2074.7l0.5 -0.5l2.1 -2.1l2 -2.1l2.1 -2l2.1 -2l2.1 -1.9l2.2 -2l2.1 -2l2.1 -2.1l0.3 -0.3M1912.7 2041.5l0.4 -0.3l2.4 -1.9l2.4 -1.7l2.4 -1.6l2.5 -1.5l2.5 -1.4l2.6 -1.4l2.4 -1.2"/>
<path class="cv" stroke-width="2.5" d="M629 3394.8l5.2 -0.1l5.1 -0.1l5.2 -0.1l5.1 0l5.1 0l5.1 -0.1l5 0l5 -0.1l5.1 0l5 -0.1l4.9 -0.2l5 -0.1l5 -0.3l4.9 -0.3l4.9 -0.3l4.9 -0.5l4.9 -0.5l4.8 -0.6l4.9 -0.7l4.8 -0.9l4.8 -0.9l4.9 -1.1l4.8 -1.2l4.7 -1.3l4.8 -1.4l4.8 -1.5l4.7 -1.5l4.7 -1.7l4.8 -1.7l4.7 -1.9l4.7 -1.8l4.7 -2l4.7 -2l4.6 -2l4.7 -2l4.7 -2.1l4.6 -1.8l4.7 -1.7l4.8 -1.4l4.7 -1l4.8 -0.5l4.9 -0.1l4.9 0.6l4.8 1l4.8 1.5l4.8 1.8l4.6 2.1l4.5 2.3l4.5 2.4l4.5 2.4l4.5 2.4l4.4 2.2l4.6 2l4.6 1.7l4.7 1.3l4.9 1l4.9 0.7l4.9 0.4l5 0.3l5 0.2l5.1 0.2l5 0.1l5 0.2l5.1 0.1l5 0.1l5 0.1l5.1 0.1l5 0.1l5 0l5.1 0.1l5 0.1l5 0l5 0l5 0.1l5.1 0l5 0l5 0l5 0l5 0l5 0l5 0l5 -0.1l5 0l5.1 -0.1l5 0l5 -0.1l5 -0.1l5 -0.1l5 -0.1l5 -0.1l5 -0.1l5 -0.1l5 -0.1l5 -0.1l5 -0.2l4.9 -0.1l5 -0.2l5 -0.2l5 -0.1l5 -0.2l5 -0.2l5 -0.2l5 -0.2l5 -0.2l5 -0.2l4.9 -0.3l5 -0.2l5 -0.2l5 -0.3l5 -0.3l5 -0.2l4.9 -0.3l5 -0.3l5 -0.3l5 -0.3l5 -0.3l5 -0.3l4.9 -0.3l5 -0.3l5 -0.4l5 -0.3l5 -0.3l4.9 -0.4l5 -0.4l5 -0.3l5 -0.4l5 -0.4l4.9 -0.4l5 -0.4l5 -0.4l5 -0.4l5 -0.4l4.9 -0.4l5 -0.5l5 -0.4l5 -0.5l5 -0.4l4.9 -0.5l5 -0.4l5 -0.5l5 -0.5l4.9 -0.5l5 -0.4l5 -0.5l5 -0.5l5 -0.5l4.9 -0.6l5 -0.5l5 -0.5l5 -0.5l5 -0.6l5 -0.5l4.9 -0.5l5 -0.6l5 -0.5l5 -0.6l5 -0.6l4.9 -0.5l5 -0.6l5 -0.6l5 -0.6l5 -0.6l5 -0.6l4.9 -0.6l5 -0.6l5 -0.6l5 -0.6l5 -0.6l5 -0.7l5 -0.6l4.9 -0.7l5 -0.7l5 -0.7l4.9 -0.7l5 -0.7l5 -0.8l4.9 -0.8l5 -0.8l4.9 -0.8l4.9 -0.9l4.9 -0.9l4.9 -0.9l4.9 -1l4.9 -1l4.9 -1.1l4.9 -1.1l4.8 -1.1l4.9 -1.1l4.8 -1.3l4.8 -1.2l4.8 -1.3l4.8 -1.4l4.8 -1.4l4.8 -1.5l4.7 -1.5l4.7 -1.6l4.8 -1.6l4.6 -1.7l4.7 -1.8l4.7 -1.8l4.6 -1.9l4.6 -1.9l4.6 -2l4.5 -2.1l4.5 -2.1l4.5 -2.2l4.5 -2.3l4.4 -2.4l4.4 -2.4l4.3 -2.5l4.3 -2.5l4.3 -2.7l4.2 -2.7l4.2 -2.7l4.1 -2.9l4.1 -2.9l4 -3l4 -3l3.9 -3.2l3.9 -3.2l3.8 -3.2l3.8 -3.3l3.7 -3.4l3.6 -3.4l3.6 -3.5l3.6 -3.5l3.4 -3.6l3.4 -3.7l3.3 -3.7l3.3 -3.8l3.2 -3.8l3.1 -3.8l3.1 -4l3 -3.9l3 -4l2.9 -4.1l2.9 -4.1l2.9 -4.1l2.9 -4.2l2.8 -4.2l2.9 -4.3l2.7 -4.2l2.6 -4.4l2.5 -4.3l2.3 -4.4l2.2 -4.5l2.1 -4.4l2 -4.5l1.9 -4.5l1.9 -4.6l1.8 -4.6l1.7 -4.6l1.8 -4.6l1.7 -4.6l1.7 -4.7l1.7 -4.7l1.7 -4.7l1.6 -4.7l1.6 -4.8l1.7 -4.7l1.5 -4.8l1.6 -4.8l1.6 -4.8l1.5 -4.8l1.5 -4.8l1.5 -4.8l1.5 -4.8l1.4 -4.9l1.5 -4.8l1.4 -4.8l1.4 -4.9l1.4 -4.8l1.3 -4.9l1.4 -4.8l1.3 -4.9l1.4 -4.8l1.3 -4.9l1.2 -4.8l1.3 -4.9l1.3 -4.8l1.2 -4.9l1.3 -4.8l1.2 -4.9l1.2 -4.9l1.2 -4.8l1.1 -4.9l1.2 -4.8l1.2 -4.9l1.1 -4.9l1.1 -4.8l1.1 -4.9l1.1 -4.9l1.1 -4.8l1.1 -4.9l1.1 -4.9l1.1 -4.9l1 -4.8l1.1 -4.9l1 -4.9l1 -4.9l1.1 -4.9l1 -4.8l1 -4.9l1 -4.9l1 -4.9l1 -4.9l0.9 -4.9l1 -4.9l1 -4.9l0.9 -4.9l1 -4.9l1 -4.9l0.9 -4.8l0.9 -4.9l1 -4.9l0.9 -4.9l1 -5l0.9 -4.9l0.9 -4.9l0.9 -4.9l1 -4.9l0.9 -4.9l0.9 -4.9l0.9 -4.9l1 -4.9l0.9 -4.9l0.9 -4.9l0.9 -5l0.9 -4.9l1 -4.9l0.9 -4.9l0.9 -4.9l1 -4.9l0.9 -5l0.9 -4.9l0.9 -4.9l1 -4.9l0.9 -4.9l1 -5l0.9 -4.9l0.9 -4.9l1 -4.9l0.9 -5l0.9 -4.9l1 -4.9l0.9 -4.9l0.9 -5l0.9 -4.9l1 -4.9l0.9 -5l0.9 -4.9l0.9 -4.9l0.9 -4.9l0.9 -5l0.9 -4.9l0.9 -4.9l0.9 -5l0.9 -4.9l0.8 -4.9l0.9 -4.9l0.9 -5l0.8 -4.9l0.9 -4.9l0.8 -5l0.9 -4.9l0.9 -4.9l0.8 -5l0.8 -4.9l0.9 -4.9l0.8 -5l0.9 -4.9l0.8 -4.9l0.9 -4.9l0.8 -5l0.9 -4.9l0.8 -4.9l0.9 -5l0.8 -4.9l0.8 -4.9l0.9 -4.9l0.9 -5l0.8 -4.9l0.9 -4.9l0.8 -4.9l0.9 -5l0.9 -4.9l0.8 -4.9l0.9 -4.9l0.9 -5l0.9 -4.9l0.8 -4.9l0.9 -4.9l0.9 -4.9l0.9 -5l1 -4.9l0.9 -4.9l0.9 -4.9"/>
<path class="dt" stroke-width="3.9" d="M511.9 3396.9h0M535 3397.6h0M560.5 3396.9h0M586 3396.9h0M611.2 3395.8h0M637.1 3394.4h0M661.5 3393.7h0M687.1 3393h0M711.5 3392.3h0M737.4 3392h0M762.9 3391.3h0M788.1 3388.8h0M811.9 3385.3h0M834.6 3382.2h0M861.2 3380.8h0M886.4 3382.2h0M900.3 3383.2h0M924.5 3385.3h0M950 3386h0M976.2 3385.7h0M1000.7 3384.6h0M1025.9 3383.2h0M1050.7 3382.9h0M1074.8 3382.2h0M1100.3 3380.8h0M1125.5 3380.1h0M1150.3 3378.3h0M1174.5 3377.3h0M1198.3 3374.5h0M1222.7 3371.7h0M1247.9 3369.9h0M1272.7 3368.2h0M1286.4 3367.1h0M1311.2 3364.7h0M1334.6 3362.2h0M1358 3359.8h0M1383.6 3356.3h0M1407.3 3353.1h0M1431.5 3348.9h0M1455.6 3345.3h0M1478.7 3341.4h0M1503.4 3337.1h0M1526.5 3331.6h0M1549.2 3326.1h0M1573.5 3319.1h0M1596.6 3310.8h0M1618.1 3301h0M1640.4 3287.3h0M1651.8 3279.5h0M1673.3 3258h0M1689 3235.3h0M1703.5 3209h0M1714.9 3184h0M1725 3158.5h0M1734 3132.7h0M1742.7 3107.2h0M1750.8 3081.5h0M1758.2 3055.4h0M1764.5 3030h0M1771.8 3004.9h0M1777.9 2978.9h0M1784 2953.5h0M1790.9 2927.9h0M1797 2902.2h0M1802.6 2876.6h0M1810 2851h0M1815.8 2825h0M1822.1 2799.6h0M1828 2774.3h0M1834 2748.5h0M1838.8 2723.2h0M1843.8 2697.7h0M1847.9 2671.9h0M1851.8 2646.1h0M1856.2 2620.3h0M1860.1 2594.5h0M1864.8 2569.5h0M1868.1 2543.8h0M1872.4 2517.7h0M1874.6 2492.6h0M1877.8 2467h0M1881.5 2441.4h0"/>
</g>
<g id="legends">
<rect class="bx" x="383" y="100" width="864.2" height="194"/>
<path fill="none" stroke="#6a6a6a" stroke-width="4.0" d="M418.3 145.9H555.9"/>
<path class="dt" stroke-width="3.9" d="M418.9 241.8h0M445 241.8h0M470.7 241.8h0M496.4 241.8h0M522.2 241.8h0M547.6 241.8h0"/>
<text class="lg" transform="translate(589.3 167.4) scale(0.9921 1)"><tspan>0.9EMIFSI-0.1NaClO</tspan><tspan class="sb" style="letter-spacing:-0.95px" dx="-1" dy="23">4</tspan></text>
<text class="lg" transform="translate(589.3 263.2) scale(0.9921 1)"><tspan>0.9EMITFSI-0.1NaClO</tspan><tspan class="sb" style="letter-spacing:-0.95px" dx="-1" dy="23">4</tspan></text>
<rect class="bx" x="386.1" y="1281" width="894.4" height="334.4"/>
<path fill="none" stroke="#666" stroke-width="4.6" d="M421.5 1349.1H559.8"/>
<path class="dt" stroke-width="3.9" d="M422.4 1445h0M448.2 1445h0M473.9 1445h0M499.6 1445h0M525.4 1445h0M551.8 1445h0"/>
<path class="cv" stroke-width="4.3" stroke-dasharray="21 22.8" d="M419.9 1539.2H561.4"/>
<text class="lg" transform="translate(593 1370.5) scale(0.9953 1)"><tspan>0.9N</tspan><tspan class="sb" style="letter-spacing:-1.02px" dx="1.1" dy="23">1114</tspan><tspan dx="-1.1" dy="-23">FSI-0.1NaClO</tspan><tspan class="sb" style="letter-spacing:-1.02px" dx="-1" dy="23">4</tspan></text>
<text class="lg" transform="translate(593 1465.7) scale(0.9953 1)"><tspan>0.9N</tspan><tspan class="sb" style="letter-spacing:-1.02px" dx="1.1" dy="23">1114</tspan><tspan dx="-1.1" dy="-23">TFSI-0.1NaClO</tspan><tspan class="sb" style="letter-spacing:-1.02px" dx="-1" dy="23">4</tspan></text>
<text class="lg" transform="translate(593 1561.3) scale(0.9953 1)"><tspan>0.9N</tspan><tspan class="sb" style="letter-spacing:-1.02px" dx="1.1" dy="23">1114</tspan><tspan dx="-1.1" dy="-23">IM</tspan><tspan class="sb" style="letter-spacing:-1.02px" dx="1.1" dy="23">14</tspan><tspan dx="-1.1" dy="-23">-0.1NaClO</tspan><tspan class="sb" style="letter-spacing:-1.02px" dx="-1" dy="23">4</tspan></text>
<rect class="bx" x="384.4" y="2453.5" width="913.8" height="226.6"/>
<path class="dt" stroke-width="3.9" d="M426.4 2511.2h0M452.2 2511.2h0M478.1 2511.2h0M503.6 2511.2h0M529.8 2511.2h0M555.3 2511.2h0"/>
<path fill="none" stroke="#222" stroke-width="3.0" d="M426.1 2605.9H563.7"/>
<text class="lg" transform="translate(595.9 2531.9) scale(0.9953 1)"><tspan>0.9PIP</tspan><tspan class="sb" style="letter-spacing:-1.02px" dx="1.1" dy="23">13</tspan><tspan dx="0.2" dy="-23">TFSI-0.1NaClO</tspan><tspan class="sb" style="letter-spacing:-1.02px" dx="-1" dy="23">4</tspan></text>
<text class="lg" transform="translate(595.9 2627.9) scale(0.9953 1)"><tspan>0.9PIP</tspan><tspan class="sb" style="letter-spacing:-1.02px" dx="1.1" dy="23">14</tspan><tspan dx="0.2" dy="-23">TFSI-0.1NaClO</tspan><tspan class="sb" style="letter-spacing:-1.02px" dx="-1" dy="23">4</tspan></text>
</g>
<g id="letters">
<rect class="bx" x="1855.4" y="958.5" width="64.8" height="110.8"/>
<text transform="translate(1863.8 1041.6) scale(0.9110 1)" style="font-size:85.6px;stroke-width:1.0px;letter-spacing:0">A</text>
<rect class="bx" x="1853.5" y="2145" width="65.3" height="110.6"/>
<text transform="translate(1859.7 2226.5) scale(0.9700 1)" style="font-size:82.7px;stroke-width:0.4px;letter-spacing:0">B</text>
<rect class="bx" x="1853.5" y="3325" width="70.7" height="110.6"/>
<text transform="translate(1860.4 3407.3) scale(0.9530 1)" style="font-size:84px;stroke-width:0.6px;letter-spacing:0">C</text>
</g>
<text class="al" transform="translate(1148.8 3634.6) scale(0.9766 1)" text-anchor="middle">Cell voltage / V</text>
</g>
</svg>
</body>
</html>
